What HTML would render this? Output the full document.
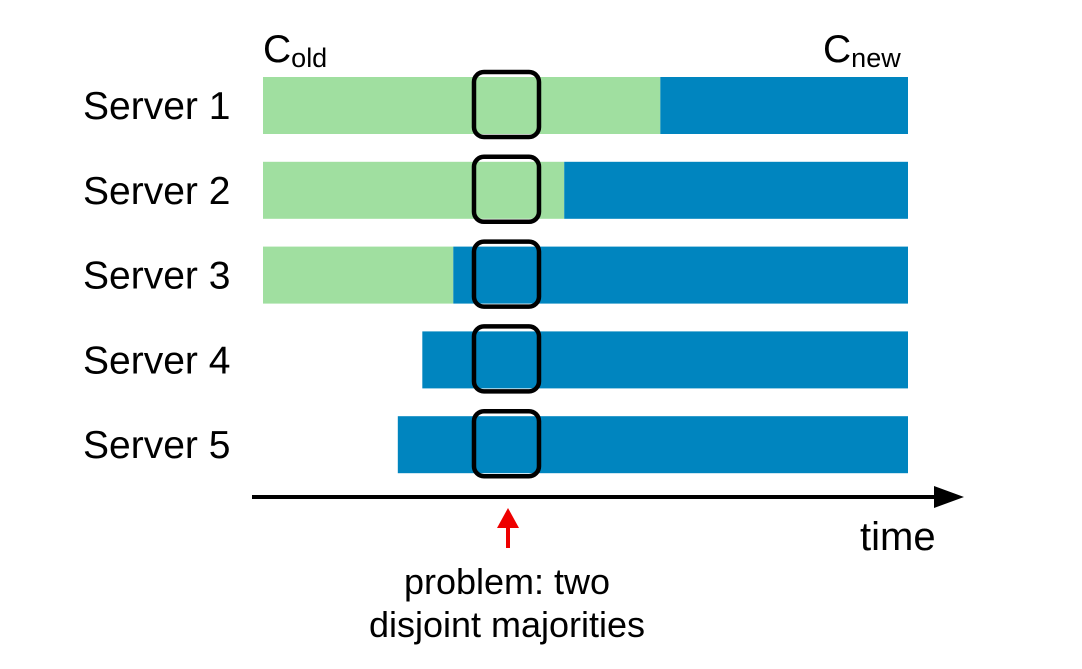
<!DOCTYPE html>
<html><head><meta charset="utf-8"><style>
html,body{margin:0;padding:0;background:#fff;}
svg text{font-family:"Liberation Sans",sans-serif;fill:#000;}
</style></head><body>
<svg width="1082" height="664" viewBox="0 0 1082 664">
<g id="bars"></g>
<text x="263" y="62" font-size="39">C<tspan font-size="27" dy="5">old</tspan></text>
<text x="823" y="62" font-size="39">C<tspan font-size="27" dy="5">new</tspan></text>
<line x1="252" y1="497" x2="940" y2="497" stroke="#000" stroke-width="4"/>
<polygon points="964,497 934,486 934,508" fill="#000"/>
<text x="860" y="550" font-size="40">time</text>
<line x1="508" y1="548" x2="508" y2="526" stroke="#e00" stroke-width="4"/>
<polygon points="508,508 497,528 519,528" fill="#e00"/>
<text x="507" y="594" font-size="36" text-anchor="middle">problem: two</text>
<text x="507" y="637" font-size="36" text-anchor="middle">disjoint majorities</text>
</svg>
<script>
const servers = ["Server 1","Server 2","Server 3","Server 4","Server 5"];
const startT = [0, 0, 0, 24.7, 20.9];
const switchT = [61.6, 46.7, 29.5, 24.7, 20.9];
const endT = [100, 100, 100, 100, 100];
const problemT = 37.75;
const xs = t => 263 + t * 6.45;
const rowTop = i => 77 + i * 84.8;
const rowH = 57;
const g = document.getElementById('bars');
const NS = 'http://www.w3.org/2000/svg';
servers.forEach((s, i) => {
  const y = rowTop(i);
  const lab = document.createElementNS(NS, 'text');
  lab.setAttribute('x', 83); lab.setAttribute('y', y + 42); lab.setAttribute('font-size', '39');
  lab.textContent = s;
  
  
  g.appendChild(lab);
  if (switchT[i] > startT[i]) {
    const r = document.createElementNS(NS, 'rect');
    r.setAttribute('x', xs(startT[i])); r.setAttribute('y', y);
    r.setAttribute('width', xs(switchT[i]) - xs(startT[i])); r.setAttribute('height', rowH);
    r.setAttribute('fill', '#a0dfa0');
    
    
    g.appendChild(r);
  }
  const b = document.createElementNS(NS, 'rect');
  b.setAttribute('x', xs(switchT[i])); b.setAttribute('y', y);
  b.setAttribute('width', xs(endT[i]) - xs(switchT[i])); b.setAttribute('height', rowH);
  b.setAttribute('fill', '#0085bf');
  
  
  g.appendChild(b);
  const box = document.createElementNS(NS, 'rect');
  box.setAttribute('x', xs(problemT) - 32.5); box.setAttribute('y', y - 5);
  box.setAttribute('width', 65); box.setAttribute('height', 65); box.setAttribute('rx', 10);
  box.setAttribute('fill', 'none'); box.setAttribute('stroke', '#000'); box.setAttribute('stroke-width', 4.5);
  
  
  g.appendChild(box);
});
</script>
</body></html>
